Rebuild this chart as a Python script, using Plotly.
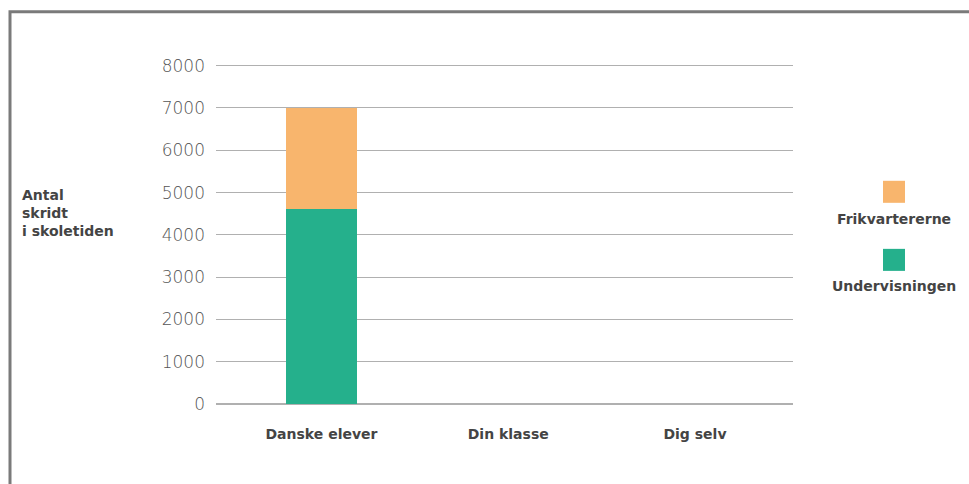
import plotly.graph_objects as go

categories = ["Danske elever", "Din klasse", "Dig selv"]
undervisningen = [4600, None, None]
frikvarterne = [2400, None, None]
y_ticks = [0, 1000, 2000, 3000, 4000, 5000, 6000, 7000, 8000]

GREEN = "#25b08c"
ORANGE = "#f8b56d"
FONT = "DejaVu Sans"

fig = go.Figure()
fig.add_trace(go.Bar(x=categories, y=undervisningen, name="Undervisningen",
                     marker=dict(color=GREEN, line=dict(width=0)), width=0.38,
                     showlegend=False))
fig.add_trace(go.Bar(x=categories, y=frikvarterne, name="Frikvartererne",
                     marker=dict(color=ORANGE, line=dict(width=0)), width=0.38,
                     showlegend=False))

PX = 338 / 8000  # pixels per unit
fig.update_layout(
    width=969, height=484,
    margin=dict(l=216, r=176, t=66 - 40 * PX, b=80),
    barmode="stack",
    plot_bgcolor="white", paper_bgcolor="white",
    font=dict(family=FONT, color="#444"),
    xaxis=dict(range=[-0.565, 2.525], showgrid=False, showline=False, zeroline=False,
               ticks="", tickfont=dict(size=14, color="#444", family=FONT, weight=600),
               ticklabelstandoff=20),
    yaxis=dict(range=[0, 8040], tickvals=y_ticks, showgrid=True, gridcolor="#b0b0b0",
               gridwidth=1, zeroline=True, zerolinecolor="#b0b0b0", zerolinewidth=1.5,
               showline=False, ticks="", tickfont=dict(size=17, color="#555", family=FONT, weight=200),
               ticklabelstandoff=10),
)

H = 8040 * PX  # plot height in px
top = 66 - 40 * PX

def py(y):
    return (top + H - y) / H

# frame
fig.add_shape(type="rect", xref="paper", yref="paper",
              x0=(10 - 216) / 577, x1=(1000 - 216) / 577,
              y0=py(520), y1=py(12),
              line=dict(color="#7a7a7a", width=3), fillcolor="rgba(0,0,0,0)", layer="below")

# axis title
fig.add_annotation(xref="paper", yref="paper", x=(20 - 216) / 577, y=py(213),
                   text="Antal<br>skridt<br>i skoletiden", showarrow=False, xanchor="left",
                   yanchor="middle", align="left",
                   font=dict(size=14, color="#444", family=FONT, weight=700))

# custom legend
legend_items = [("Frikvartererne", ORANGE, 192, 219), ("Undervisningen", GREEN, 260, 286)]
for name, col, sq_cy, txt_cy in legend_items:
    fig.add_shape(type="rect", xref="paper", yref="paper",
                  x0=(883 - 216) / 577, x1=(905 - 216) / 577,
                  y0=py(sq_cy + 11), y1=py(sq_cy - 11),
                  line=dict(width=0), fillcolor=col)
    fig.add_annotation(xref="paper", yref="paper", x=(894 - 216) / 577, y=py(txt_cy),
                       text=name, showarrow=False, xanchor="center", yanchor="middle",
                       font=dict(size=14, color="#444", family=FONT, weight=700))

fig.write_html("out.html")
